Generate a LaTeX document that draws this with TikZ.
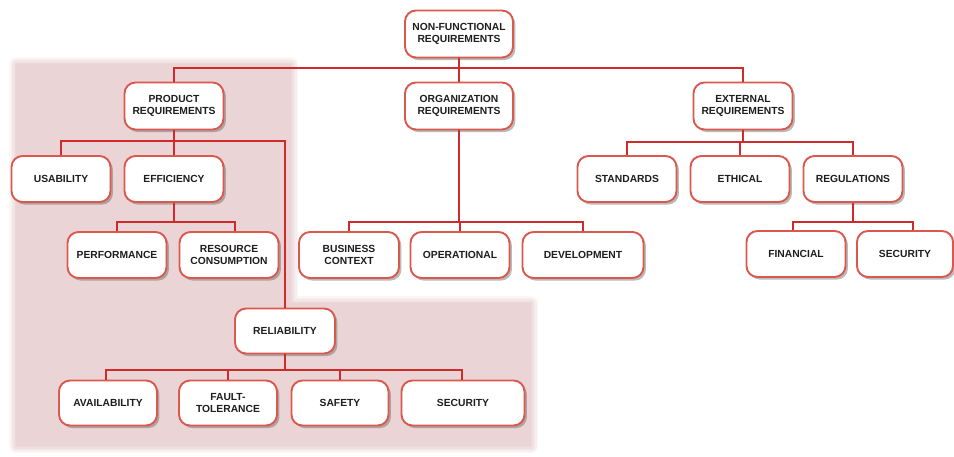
\documentclass[tikz,border=0pt]{standalone}
\usepackage{fontspec}
\setmainfont{Liberation Sans}
\usetikzlibrary{shadows}
\definecolor{boxedge}{RGB}{218,88,78}
\definecolor{linkred}{RGB}{208,42,42}
\definecolor{zonepink}{RGB}{235,212,214}
\definecolor{labelgray}{RGB}{30,30,30}
\tikzset{
  req/.style={draw=boxedge, line width=1.9pt, fill=white, rounded corners=11pt,
    minimum width=99pt, minimum height=46pt, inner sep=2pt, align=center,
    text=labelgray, font=\fontsize{10.3}{12.6}\selectfont\bfseries,
    drop shadow={shadow xshift=2.4pt, shadow yshift=-2.6pt, opacity=0.45, fill=black!60}},
  link/.style={draw=linkred, line width=2.3pt},
  zone/.style={fill=zonepink, draw=none}
}
\begin{document}
\begin{tikzpicture}[x=1pt, y=-1pt]
\useasboundingbox (0,0) rectangle (954,456);
\fill[white] (0,0) rectangle (954,456);

% shaded product-requirements zone with a soft edge
\foreach \w/\o in {14/0.18,11/0.22,8/0.28,5/0.35,2/0.5}{
  \draw[zonepink, line width=\w pt, opacity=\o, line join=round]
    (16,64) -- (291,64) -- (291,303) -- (531,303) -- (531,446) -- (16,446) -- cycle;
}
\fill[zone] (16,64) -- (291,64) -- (291,303) -- (531,303) -- (531,446) -- (16,446) -- cycle;

% nodes
\node[req, minimum width=108pt, minimum height=47pt] (nfr) at (459,34) {NON-FUNCTIONAL\\REQUIREMENTS};

\node[req, minimum height=47pt] (prod) at (174,106) {PRODUCT\\REQUIREMENTS};
\node[req, minimum width=108pt, minimum height=47pt] (org) at (459,106) {ORGANIZATION\\REQUIREMENTS};
\node[req, minimum height=47pt] (ext) at (743,106) {EXTERNAL\\REQUIREMENTS};

\node[req] (usab) at (61,179) {USABILITY};
\node[req] (eff) at (174,179) {EFFICIENCY};
\node[req] (perf) at (117,255) {PERFORMANCE};
\node[req] (res) at (229,255) {RESOURCE\\CONSUMPTION};

\node[req, minimum height=45pt, minimum width=100pt] (rel) at (285,331) {RELIABILITY};
\node[req, minimum height=45pt, minimum width=98pt] (avail) at (108,403) {AVAILABILITY};
\node[req, minimum height=45pt, minimum width=98pt] (fault) at (228,403) {FAULT-\\TOLERANCE};
\node[req, minimum height=45pt, minimum width=97pt] (safety) at (340,403) {SAFETY};
\node[req, minimum height=45pt, minimum width=123pt] (sec) at (463,403) {SECURITY};

\node[req, minimum width=100pt] (bus) at (349,255) {BUSINESS\\CONTEXT};
\node[req] (oper) at (460,255) {OPERATIONAL};
\node[req, minimum width=121pt] (dev) at (583,255) {DEVELOPMENT};

\node[req] (std) at (627,179) {STANDARDS};
\node[req] (eth) at (740,179) {ETHICAL};
\node[req] (reg) at (853,179) {REGULATIONS};
\node[req] (fin) at (796,254) {FINANCIAL};
\node[req, minimum width=96pt] (sec2) at (905,254) {SECURITY};

% junction points of the tree
\coordinate (jtop) at (459,68);
\coordinate (jprod) at (174,141);
\coordinate (jeff) at (174,222);
\coordinate (jrel) at (285,370);
\coordinate (jorg) at (459,222);
\coordinate (jext) at (743,142);
\coordinate (jreg) at (853,222);

% connectors
\draw[link] (nfr.south) -- (jtop);
\draw[link] (jtop) -| (prod.north);
\draw[link] (jtop) -| (org.north);
\draw[link] (jtop) -| (ext.north);

\draw[link] (prod.south) -- (jprod);
\draw[link] (jprod) -| (usab.north);
\draw[link] (jprod) -- (eff.north);
\draw[link] (jprod) -| (rel.north);

\draw[link] (eff.south) -- (jeff);
\draw[link] (jeff) -| (perf.north);
\draw[link] (jeff) -| ([xshift=6pt]res.north);

\draw[link] (rel.south) -- (jrel);
\draw[link] (jrel) -| ([xshift=-2pt]avail.north);
\draw[link] (jrel) -| (fault.north);
\draw[link] (jrel) -| (safety.north);
\draw[link] (jrel) -| ([xshift=-1pt]sec.north);

\draw[link] (org.south) -- (jorg);
\draw[link] (jorg) -| (bus.north);
\draw[link] (jorg) -| (oper.north);
\draw[link] (jorg) -| (dev.north);

\draw[link] (ext.south) -- (jext);
\draw[link] (jext) -| (std.north);
\draw[link] (jext) -| (eth.north);
\draw[link] (jext) -| (reg.north);

\draw[link] (reg.south) -- (jreg);
\draw[link] (jreg) -| ([xshift=-3pt]fin.north);
\draw[link] (jreg) -| ([xshift=8pt]sec2.north);
\end{tikzpicture}
\end{document}
